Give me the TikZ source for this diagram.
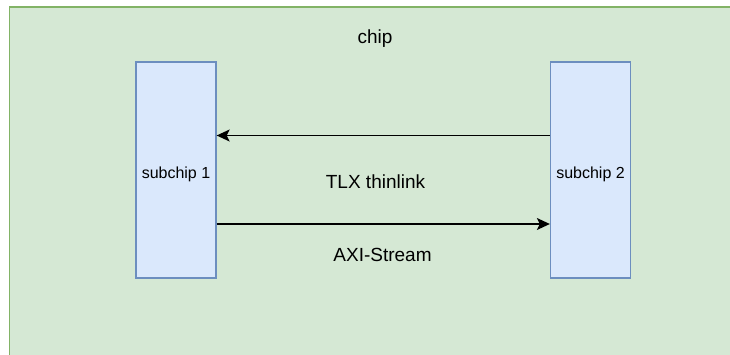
\documentclass[tikz,border=0pt]{standalone}
\usepackage{fontspec}
\setmainfont{Liberation Sans}
\usetikzlibrary{
    positioning,
    arrows.meta
}

\definecolor{chipfill}{HTML}{D5E8D4}
\definecolor{chipline}{HTML}{82B366}
\definecolor{subfill}{HTML}{DAE8FC}
\definecolor{subline}{HTML}{6C8EBF}

\begin{document}
\begin{tikzpicture}[
    x=1pt, y=-1pt,
    font=\fontsize{16}{18}\selectfont,
    chipbox/.style={
        draw=chipline,
        fill=chipfill,
        line width=1.3pt,
        inner sep=0pt
    },
    subbox/.style={
        draw=subline,
        fill=subfill,
        line width=1.3pt,
        minimum width=80pt,
        minimum height=216pt,
        inner sep=0pt
    },
    label/.style={font=\fontsize{19}{22}\selectfont},
    arrow/.style={-{Stealth[length=13pt,width=12pt,inset=3pt]}, line width=1.3pt}
]

% Set bounding box to the size of the screenshot
\useasboundingbox (0,0) rectangle (730,355);

% ================= CHIP =================
\node[chipbox, minimum width=760pt, minimum height=400pt, anchor=north west] (chip) at (8.5,6.5) {};
\node[label] (chiplabel) at (375,39) {chip};

% ================= SUBCHIPS =================
\node[subbox] (sub1) at (176,170) {};
\node (sub1text) at ([yshift=-4pt]sub1.center) {subchip 1};

\node[subbox] (sub2) at (590.5,170) {};
\node (sub2text) at ([yshift=-4pt]sub2.center) {subchip 2};

% ================= ARROWS =================
\draw[arrow] ([yshift=34.5pt]sub2.west) -- ([yshift=34.5pt]sub1.east);
\draw[arrow] ([yshift=-54pt]sub1.east) -- ([yshift=-54pt]sub2.west);

\node[label] (tlx) at (375.5,182) {TLX thinlink};
\node[label] (axi) at (382.5,254.5) {AXI-Stream};

\end{tikzpicture}
\end{document}
